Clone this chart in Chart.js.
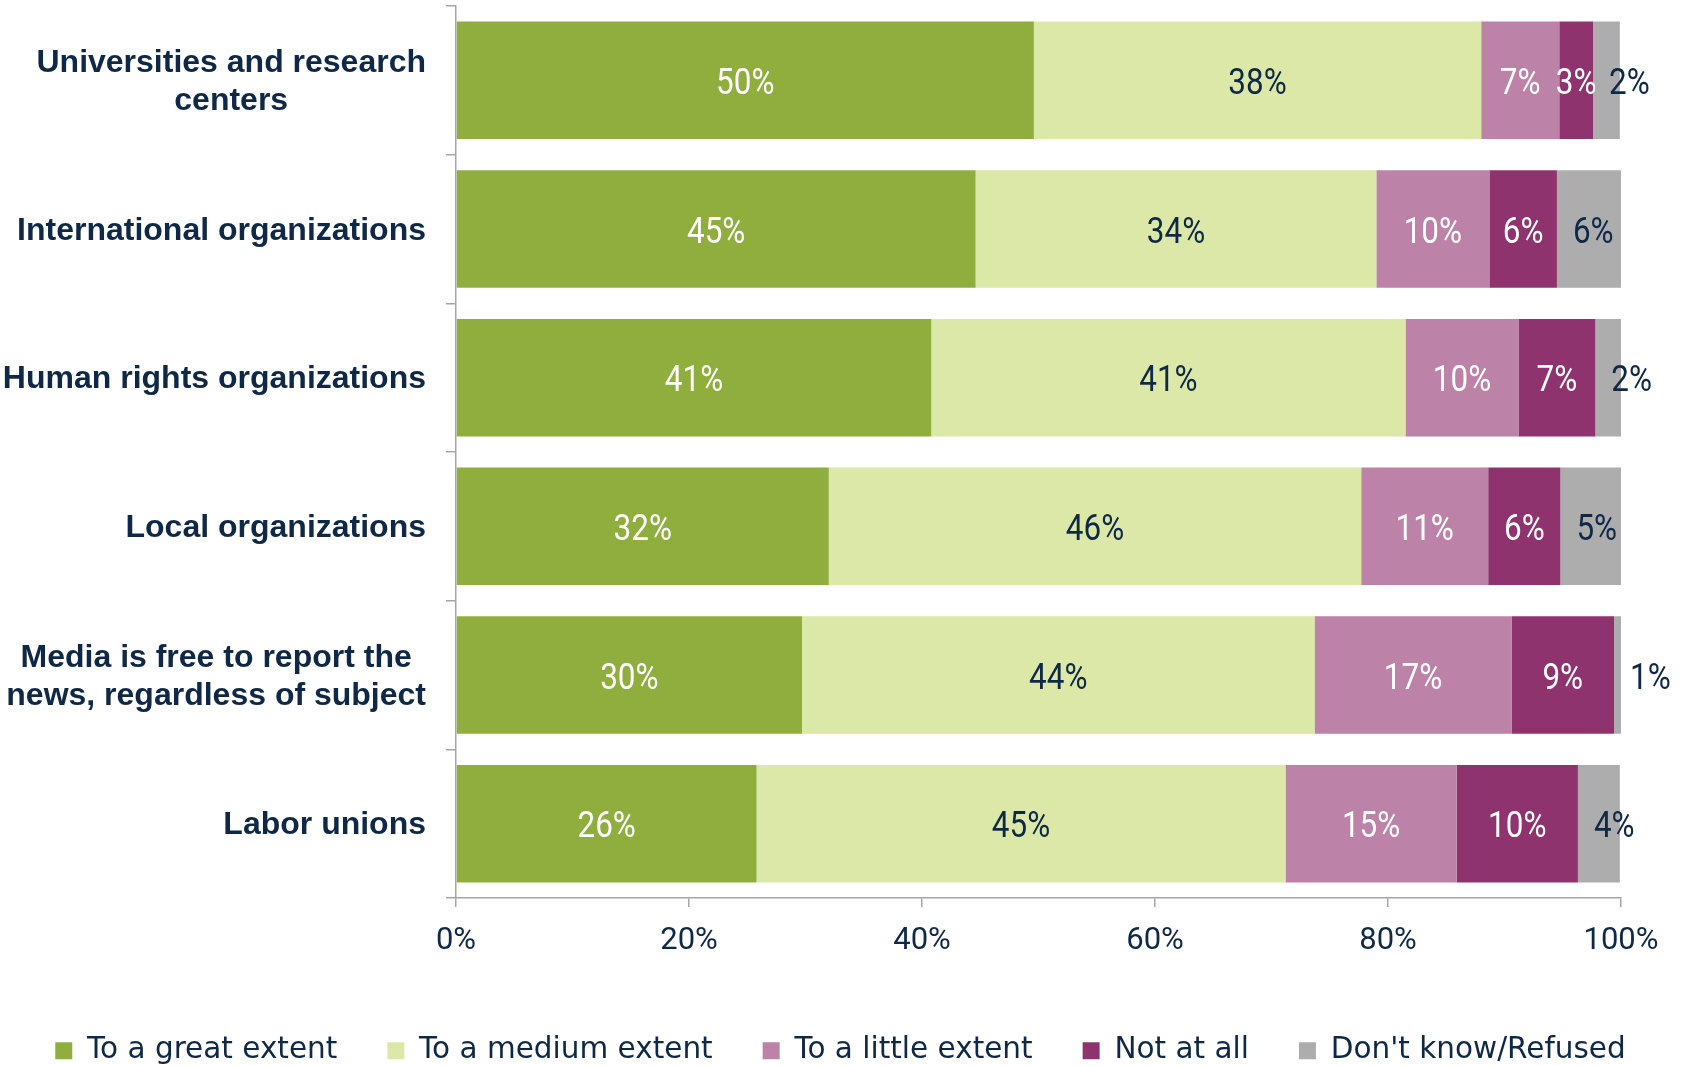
<!DOCTYPE html>
<html>
<head>
<meta charset="utf-8">
<script src="https://cdn.jsdelivr.net/npm/chart.js@4.4.1/dist/chart.umd.min.js"></script>
<style>
  html, body { margin: 0; padding: 0; background: #fff; }
</style>
</head>
<body>
<canvas id="chart" width="1681" height="1066"></canvas>
<script>
// categories, top to bottom
const categories = [
    ['Universities and research', 'centers'],
    'International organizations',
    'Human rights organizations',
    'Local organizations',
    ['Media is free to report the', 'news, regardless of subject'],
    'Labor unions'
];

// share of answers (%) per category
const greatExtent  = [49.6, 44.6, 40.8, 32.0, 29.7, 25.8];
const mediumExtent = [38.4, 34.4, 40.7, 45.7, 44.0, 45.4];
const littleExtent = [6.7, 9.7, 9.7, 10.9, 16.9, 14.7];
const notAtAll     = [2.9, 5.8, 6.6, 6.2, 8.8, 10.4];
const dontKnow     = [2.3, 5.5, 2.2, 5.2, 0.6, 3.6];

const seriesNames = ['To a great extent', 'To a medium extent', 'To a little extent', 'Not at all', "Don't know/Refused"];
const xTicks = [0, 20, 40, 60, 80, 100];

const navy = '#0f2846';
const axisGray = '#a6a6a6';
const colors = ['#8fae3e', '#dce8a7', '#bc82a8', '#8f336e', '#adadae'];
const labelColors = ['#ffffff', navy, '#ffffff', '#ffffff', navy];

const series = [greatExtent, mediumExtent, littleExtent, notAtAll, dontKnow];

// percent labels inside the segments (last one starts just inside the grey piece)
// drawn a bit condensed, the original font has narrow digits
const segmentLabels = {
    id: 'segmentLabels',
    afterDatasetsDraw(chart) {
        const ctx = chart.ctx;
        const squeeze = 0.85;
        chart.data.datasets.forEach((ds, i) => {
            chart.getDatasetMeta(i).data.forEach((bar, j) => {
                const text = Math.round(ds.data[j]) + '%';
                const last = i === series.length - 1;
                const x = last ? bar.base + 16 : (bar.x + bar.base) / 2;
                ctx.save();
                ctx.font = '37px Roboto, sans-serif';
                ctx.textBaseline = 'alphabetic';
                ctx.textAlign = last ? 'left' : 'center';
                ctx.fillStyle = labelColors[i];
                ctx.translate(x, bar.y + 13.5);
                ctx.scale(squeeze, 1);
                ctx.fillText(text, 0, 0);
                ctx.restore();
            });
        });
    }
};

// category names: block right-aligned, lines centred inside the block
const categoryLabels = {
    id: 'categoryLabels',
    afterDraw(chart) {
        const ctx = chart.ctx;
        const yScale = chart.scales.y;
        ctx.save();
        ctx.font = 'bold 32px "Liberation Sans", Arial, sans-serif';
        ctx.fillStyle = navy;
        ctx.textAlign = 'center';
        ctx.textBaseline = 'middle';
        const right = yScale.right - 30;
        categories.forEach((cat, i) => {
            const lines = Array.isArray(cat) ? cat : [cat];
            const w = Math.max(...lines.map(l => ctx.measureText(l).width));
            const cy = yScale.getPixelForTick(i) + 2;
            lines.forEach((l, k) => {
                ctx.fillText(l, right - w / 2, cy + (k - (lines.length - 1) / 2) * 38);
            });
        });
        ctx.restore();
    }
};

// keep the legend box short so it sits at the very bottom
const legendHeight = {
    id: 'legendHeight',
    afterInit(chart) {
        const legend = chart.legend;
        const fit = legend.fit;
        legend.fit = function () {
            fit.call(this);
            this.height = 80;
        };
    }
};

new Chart(document.getElementById('chart'), {
    type: 'bar',
    data: {
        labels: categories.map(c => Array.isArray(c) ? c.join(' ') : c),
        datasets: series.map((data, i) => ({
            label: seriesNames[i],
            data: data,
            backgroundColor: colors[i],
            borderWidth: 0,
            barPercentage: 0.79,
            categoryPercentage: 1
        }))
    },
    options: {
        indexAxis: 'y',
        responsive: false,
        animation: false,
        layout: { padding: { top: 6, right: 0, left: 0, bottom: 0 } },
        scales: {
            x: {
                stacked: true,
                min: 0,
                max: 100,
                afterBuildTicks: scale => { scale.ticks = xTicks.map(v => ({ value: v })); },
                ticks: {
                    callback: v => v + '%',
                    color: navy,
                    font: { family: 'Roboto, sans-serif', size: 31 },
                    padding: 16,
                    maxRotation: 0
                },
                grid: { drawOnChartArea: false, drawTicks: true, tickLength: 9, color: axisGray, lineWidth: 1.5 },
                border: { color: axisGray, width: 1.5 },
                afterFit: scale => { scale.height = 88; }
            },
            y: {
                stacked: true,
                ticks: { display: false },
                grid: { drawOnChartArea: false, drawTicks: true, tickLength: 10, color: axisGray, lineWidth: 1.5, offset: true },
                border: { color: axisGray, width: 1.5 },
                afterFit: scale => { scale.width = 456; }
            },
            // empty strip on the right, leaves room for the outside labels
            yRight: {
                type: 'linear',
                axis: 'y',
                position: 'right',
                ticks: { display: false },
                grid: { display: false },
                border: { display: false },
                afterFit: scale => { scale.width = 60; }
            }
        },
        plugins: {
            legend: {
                position: 'bottom',
                labels: {
                    color: navy,
                    font: { family: '"DejaVu Sans", sans-serif', size: 29.5 },
                    boxWidth: 17,
                    boxHeight: 17,
                    padding: 50
                }
            },
            tooltip: { enabled: false }
        }
    },
    plugins: [segmentLabels, categoryLabels, legendHeight]
});
</script>
</body>
</html>
